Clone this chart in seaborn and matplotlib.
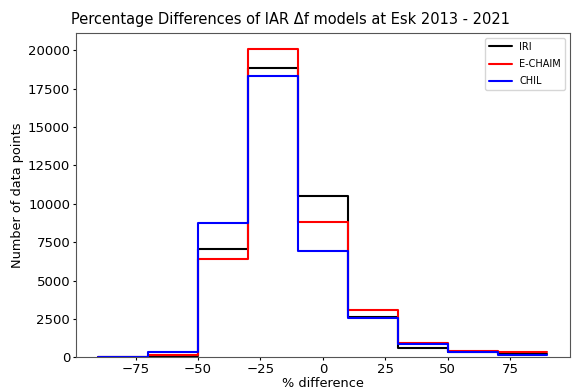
import numpy as np
import pandas as pd
import matplotlib
matplotlib.use("Agg")
import matplotlib.pyplot as plt
import seaborn as sns

# Bin edges (% difference) and counts per model
bin_edges = [-90, -70, -50, -30, -10, 10, 30, 50, 70, 90]
iri = [30, 100, 7040, 18850, 10520, 2620, 640, 380, 200]
echaim = [5, 150, 6400, 20110, 8810, 3090, 960, 440, 340]
chil = [10, 340, 8730, 18330, 6930, 2600, 860, 360, 180]
models = ["IRI", "E-CHAIM", "CHIL"]
colors = ["black", "red", "blue"]

centers = [(a + b) / 2 for a, b in zip(bin_edges[:-1], bin_edges[1:])]
frames = []
for name, vals in zip(models, [iri, echaim, chil]):
    frames.append(pd.DataFrame({"diff": centers, "count": vals, "model": name}))
df = pd.concat(frames, ignore_index=True)

sns.set_style("ticks")
plt.rcParams['font.family'] = ['DejaVu Sans']
plt.rcParams.update({"text.color": "black", "axes.labelcolor": "black",
                     "xtick.color": "black", "ytick.color": "black"})

fig = plt.figure(figsize=(5.78, 3.89), dpi=100)
ax = fig.add_axes([0.131, 0.081, 0.855, 0.834])

for name, col in zip(models, colors):
    sns.histplot(data=df[df["model"] == name], x="diff", weights="count",
                 bins=bin_edges, element="step", fill=False, color=col,
                 linewidth=1.5, label=name, ax=ax)

ax.set_xlabel("% difference", fontsize=9.3, labelpad=1)
ax.set_ylabel("Number of data points", fontsize=9.3, labelpad=3)
ax.tick_params(labelsize=9.5, length=2.5, pad=1.5, width=0.8)
ax.set_xticks([-75, -50, -25, 0, 25, 50, 75])
ax.set_yticks(np.arange(0, 20001, 2500))
for s in ax.spines.values():
    s.set_color("#555555")
ax.legend(loc="upper right", fontsize=7, handlelength=2.3, labelspacing=0.75)
fig.suptitle("Percentage Differences of IAR \u0394f models at Esk 2013 - 2021",
             fontsize=10.5, x=0.503, y=0.968)
fig.savefig("out.png", dpi=100)
